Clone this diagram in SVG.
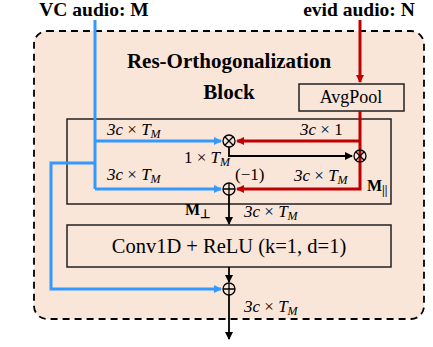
<svg xmlns="http://www.w3.org/2000/svg" width="433" height="347" viewBox="0 0 433 347">
<style>
.t{font-family:"Liberation Serif","Times New Roman",serif;fill:#000}
.b{font-weight:bold}
.m{font-family:"Liberation Serif","Times New Roman",serif;font-style:italic;font-size:17px}
.u{font-style:normal}
.s{font-size:12px}
.box{fill:none;stroke:#222;stroke-width:1.5}
.blue{fill:none;stroke:#3399ff;stroke-width:3}
.red{fill:none;stroke:#c00000;stroke-width:3}
.blk{fill:none;stroke:#000;stroke-width:1.8}
.op{fill:none;stroke:#000;stroke-width:1.3}
</style>
<defs>
<marker id="ab" markerWidth="8" markerHeight="8" refX="7" refY="4" orient="auto" markerUnits="userSpaceOnUse"><path d="M0,0 L8,4 L0,8 z" fill="#3399ff"/></marker>
<marker id="ar" markerWidth="8" markerHeight="8" refX="7" refY="4" orient="auto" markerUnits="userSpaceOnUse"><path d="M0,0 L8,4 L0,8 z" fill="#c00000"/></marker>
<marker id="ak" markerWidth="8" markerHeight="8" refX="7" refY="4" orient="auto" markerUnits="userSpaceOnUse"><path d="M0,0 L8,4 L0,8 z" fill="#000"/></marker>
</defs>
<rect width="433" height="347" fill="#fff"/>
<g id="block">
<rect x="34" y="31" width="390" height="288" rx="13" fill="#fae5d9" stroke="#000" stroke-width="1.8" stroke-dasharray="7,5"/>
<text class="t b" x="229" y="68" font-size="21" text-anchor="middle">Res-Orthogonalization</text>
<text class="t b" x="229" y="99" font-size="21" text-anchor="middle">Block</text>
</g>
<g id="inner"><rect class="box" x="67" y="119" width="324" height="85"/></g>
<g id="avgpool"><rect class="box" x="299" y="84" width="105" height="27"/><text class="t" x="351" y="103" font-size="18" text-anchor="middle">AvgPool</text></g>
<g id="conv"><rect class="box" x="67" y="225" width="324" height="42"/><text class="t" x="229" y="253" font-size="20.5" text-anchor="middle">Conv1D + ReLU (k=1, d=1)</text></g>
<g id="inputs">
<text class="t b" x="94" y="16" font-size="19.5" text-anchor="middle">VC audio: M</text>
<text class="t b" x="359" y="16" font-size="19.5" text-anchor="middle">evid audio: N</text>
</g>
<g id="connectors">
<path class="blue" d="M95,20 V189"/>
<path class="blue" d="M95,141 H221" marker-end="url(#ab)"/>
<path class="blue" d="M95,189 H221" marker-end="url(#ab)"/>
<path class="blue" d="M95,163 H51 V289 H221" marker-end="url(#ab)"/>
<path class="red" d="M360,20 V82" marker-end="url(#ar)"/>
<path class="red" d="M360,111 V189 H237" marker-end="url(#ar)"/>
<path class="red" d="M360,141 H237" marker-end="url(#ar)"/>
<path class="blk" d="M229,147 V156 H352" marker-end="url(#ak)"/>
<path class="blk" d="M229,195 V224" marker-end="url(#ak)"/>
<path class="blk" d="M229,267 V282" marker-end="url(#ak)"/>
<path class="blk" d="M229,295 V339" marker-end="url(#ak)"/>
</g>
<g id="mul1"><circle cx="229" cy="141" r="6" fill="#fae5d9" class="op"/><path class="op" d="M224.8,136.8 L233.2,145.2 M233.2,136.8 L224.8,145.2"/></g>
<g id="mul2"><circle cx="360" cy="156" r="6" fill="#fae5d9" class="op"/><path class="op" d="M355.8,151.8 L364.2,160.2 M364.2,151.8 L355.8,160.2"/></g>
<g id="add1"><circle cx="229" cy="189" r="6" fill="#fae5d9" class="op"/><path class="op" d="M223,189 H235 M229,183 V195"/></g>
<g id="add2"><circle cx="229" cy="289" r="6" fill="#fae5d9" class="op"/><path class="op" d="M223,289 H235 M229,283 V295"/></g>
<g id="labels">
<text class="m" x="107" y="135">3c <tspan class="u">×</tspan> T<tspan class="s" dy="3">M</tspan></text>
<text class="m" x="300" y="135">3c <tspan class="u">× 1</tspan></text>
<text class="m" x="184" y="163"><tspan class="u">1 ×</tspan> T<tspan class="s" dy="3">M</tspan></text>
<text class="m" x="107" y="180">3c <tspan class="u">×</tspan> T<tspan class="s" dy="3">M</tspan></text>
<text class="t" x="235" y="180" font-size="17">(−1)</text>
<text class="m" x="294" y="181">3c <tspan class="u">×</tspan> T<tspan class="s" dy="3">M</tspan></text>
<text class="t b" x="367" y="191" font-size="16">M<tspan class="s" dy="3">||</tspan></text>
<text class="t b" x="185" y="215" font-size="16">M<tspan class="s" dy="3">⊥</tspan></text>
<text class="m" x="244" y="217">3c <tspan class="u">×</tspan> T<tspan class="s" dy="3">M</tspan></text>
<text class="m" x="244" y="312">3c <tspan class="u">×</tspan> T<tspan class="s" dy="3">M</tspan></text>
</g>
</svg>
